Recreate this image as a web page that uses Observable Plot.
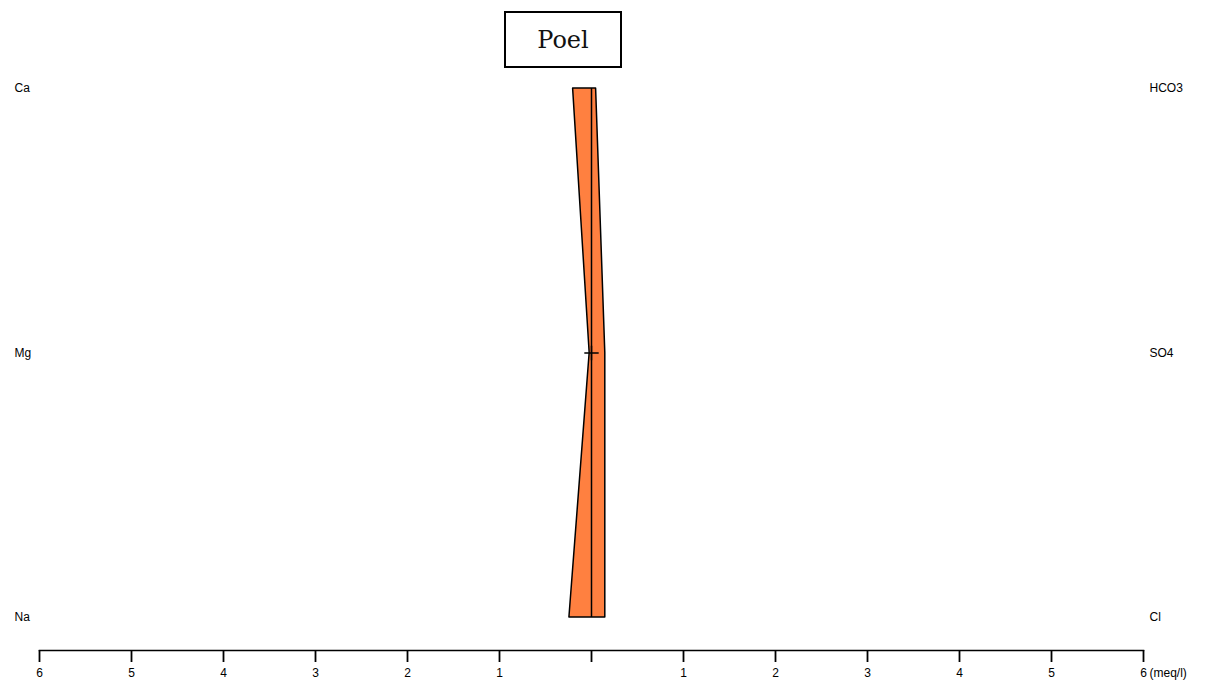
<!DOCTYPE html>
<html>
<head>
<meta charset="utf-8">
<script src="https://cdn.jsdelivr.net/npm/d3@7"></script>
<script src="https://cdn.jsdelivr.net/npm/@observablehq/plot@0.6"></script>
<style>
  html, body { margin: 0; padding: 0; background: #fff; }
  #wrap { position: relative; width: 1205px; height: 688px; }
  #title {
    position: absolute; left: 504px; top: 11px; width: 114px; height: 53px;
    border: 2px solid #000; background: #fff;
    font-family: "DejaVu Serif", serif; font-size: 24px; color: #111;
    display: flex; align-items: center; justify-content: center;
  }
  svg { font-family: "Liberation Sans", Arial, sans-serif; }
</style>
</head>
<body>
<div id="wrap">
  <div id="title">Poel</div>
</div>
<script>
// Stiff diagram data (meq/l)
const cations = ["Ca", "Mg", "Na"];
const anions = ["HCO3", "SO4", "Cl"];
const cationValues = [0.20, 0.02, 0.24];
const anionValues = [0.05, 0.15, 0.15];
const rowIndex = [0, 1, 2];
const ticks = [-6, -5, -4, -3, -2, -1, 0, 1, 2, 3, 4, 5, 6];
const unitLabel = "(meq/l)";
const fillColor = "#ff8040";

const rows = rowIndex.map(i => ({
  i, cation: cations[i], anion: anions[i],
  left: -cationValues[i], right: anionValues[i]
}));

const chart = Plot.plot({
  width: 1205,
  height: 688,
  marginLeft: 39,
  marginRight: 62,
  marginTop: 88,
  marginBottom: 38,
  insetBottom: 33,
  x: { domain: [-6, 6] },
  y: { domain: [0, 2], reverse: true, axis: null },
  style: { fontFamily: "Liberation Sans, Arial, sans-serif", fontSize: "12px", color: "#000" },
  marks: [
    Plot.areaX(rows, { y: "i", x1: "left", x2: "right", fill: fillColor, stroke: "#000", strokeWidth: 1.5, curve: "linear" }),
    Plot.ruleX([0], { y1: rowIndex[0], y2: rowIndex[rowIndex.length - 1], stroke: "#000", strokeWidth: 1.5 }),
    Plot.dot([0], { x: d => d, y: () => rowIndex[1], symbol: "plus", r: 4.7, stroke: "#000", strokeWidth: 1.5 }),
    Plot.text(rows, { x: () => -6, y: "i", text: "cation", textAnchor: "start", dx: -25, fontSize: 12 }),
    Plot.text(rows, { x: () => 6, y: "i", text: "anion", textAnchor: "start", dx: 6, fontSize: 12 }),
    Plot.frame({ anchor: "bottom", stroke: "#000", strokeWidth: 1.5 }),
    Plot.axisX({ ticks, tickSize: 12, tickPadding: 6, strokeWidth: 1.8, fontSize: 12,
      tickFormat: d => d === 0 ? "" : String(Math.abs(d)), label: null }),
    Plot.text([ticks[ticks.length - 1]], { x: d => d, frameAnchor: "bottom", text: () => unitLabel,
      textAnchor: "start", lineAnchor: "top", dy: 18, dx: 6, fontSize: 12 })
  ]
});
document.getElementById("wrap").prepend(chart);
</script>
</body>
</html>
